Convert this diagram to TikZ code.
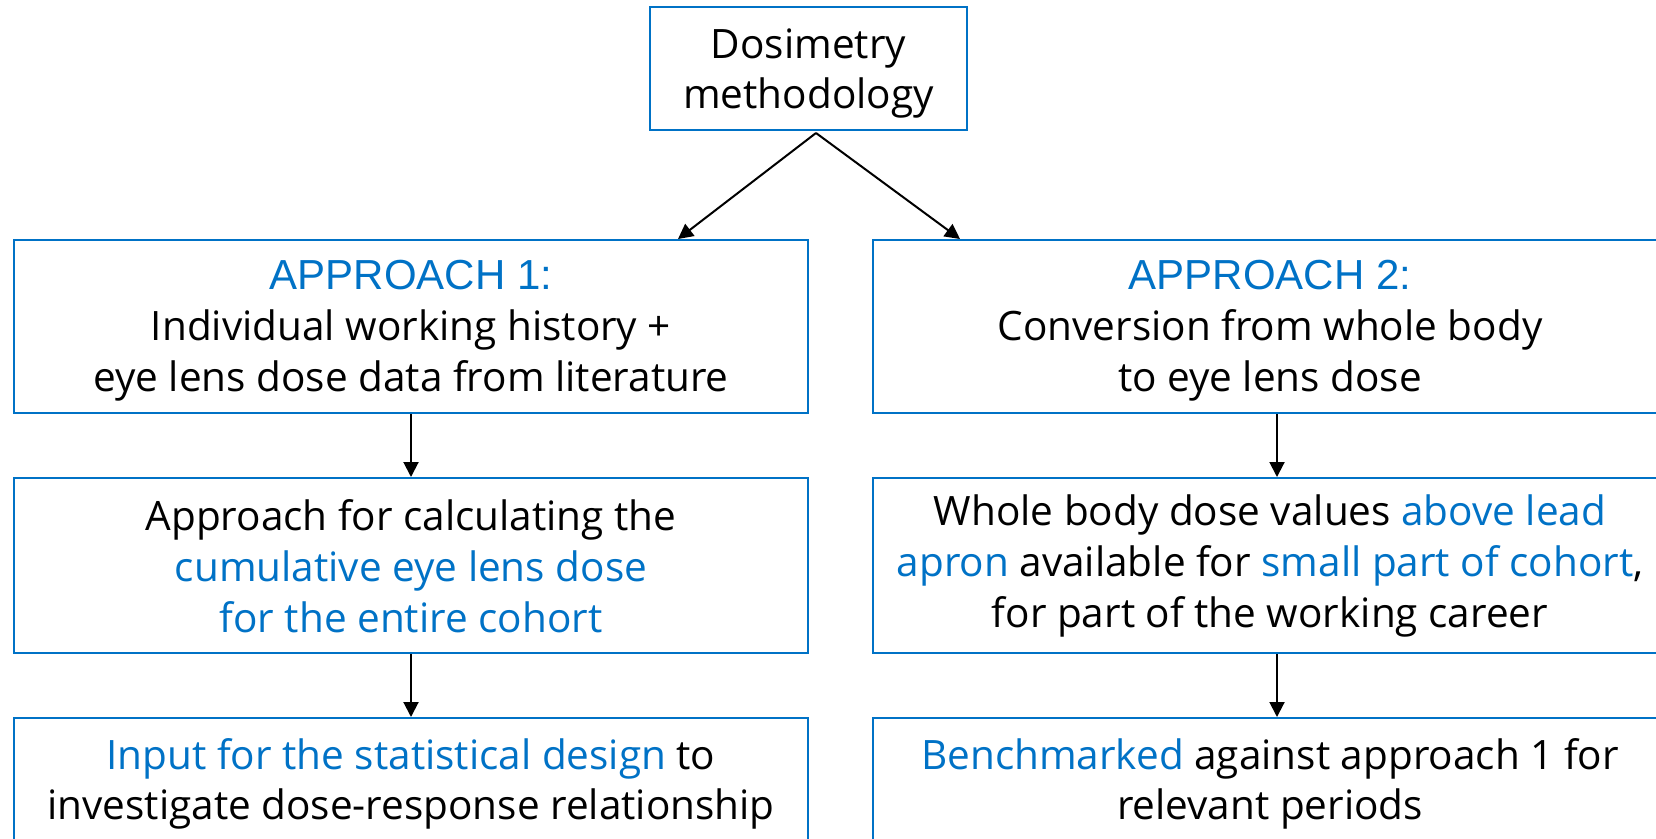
\documentclass[tikz,border=0pt]{standalone}
\usepackage{fontspec}
\setmainfont{Open Sans}
\newfontfamily\headfont{Liberation Sans}
\usetikzlibrary{arrows.meta}
\definecolor{accent}{RGB}{0,114,198}
\newcommand{\hl}[1]{\textcolor{accent}{#1}}
\tikzset{
  box/.style={draw=accent, line width=2pt, rectangle, inner sep=0pt,
    align=center, text=black,
    font=\fontsize{40.5}{50.7}\selectfont},
  words/.style={align=center, text=black, inner sep=0pt,
    font=\fontsize{40.5}{50.7}\selectfont},
  link/.style={-{Triangle[length=15pt,width=15pt]}, line width=2pt, black},
}
\begin{document}
\begin{tikzpicture}[x=1pt,y=-1pt]
\clip (0,0) rectangle (1656,838);
\fill[white] (0,0) rectangle (1656,838);

% frames
\node[box, minimum width=317pt, minimum height=123pt] (root) at (808.5,68.5) {};
\node[box, minimum width=794pt, minimum height=173pt] (a1) at (411,326.5) {};
\node[box, minimum width=794pt, minimum height=175pt] (a1b) at (411,565.5) {};
\node[box, minimum width=794pt, minimum height=124pt] (a1c) at (411,780) {};
\node[box, minimum width=794pt, minimum height=173pt] (a2) at (1270,326.5) {};
\node[box, minimum width=794pt, minimum height=175pt] (a2b) at (1270,565.5) {};
\node[box, minimum width=794pt, minimum height=124pt] (a2c) at (1270,780) {};

% texts, set a little below the frame centres
\node[words] (rootT) at ([yshift=-5pt]root.center) {Dosimetry\\methodology};
\node[words] (a1T) at ([yshift=-4pt]a1.center)
  {{\headfont\fontsize{42}{50.7}\selectfont\hl{APPROACH 1:}}\\
   Individual working history +\\eye lens dose data from literature};
\node[words] (a1bT) at ([yshift=-0.5pt]a1b.center)
  {Approach for calculating the\\\hl{cumulative eye lens dose}\\\hl{for the entire cohort}};
\node[words] (a1cT) at ([yshift=-4pt]a1c.center)
  {\hl{Input for the statistical design} to\\investigate dose-response relationship};
\node[words] (a2T) at ([yshift=-4pt]a2.center)
  {{\headfont\fontsize{42}{50.7}\selectfont\hl{APPROACH 2:}}\\
   Conversion from whole body\\to eye lens dose};
\node[words] (a2bT) at ([yshift=-0.5pt]a2b.center)
  {Whole body dose values \hl{above lead}\\\hl{apron} available for \hl{small part of cohort},\\for part of the working career};
\node[words] (a2cT) at ([yshift=-4pt]a2c.center)
  {\hl{Benchmarked} against approach 1 for\\relevant periods};

% connectors
\coordinate (split) at (816,133);
\draw[link] (split) -- (a1.north -| 678,0);
\draw[link] (split) -- (a2.north -| 960,0);
\draw[link] (a1.south) -- (a1b.north);
\draw[link] (a1b.south) -- (a1c.north);
\draw[link] (a2.south -| 1277,0) -- (a2b.north -| 1277,0);
\draw[link] (a2b.south -| 1277,0) -- (a2c.north -| 1277,0);
\end{tikzpicture}
\end{document}
